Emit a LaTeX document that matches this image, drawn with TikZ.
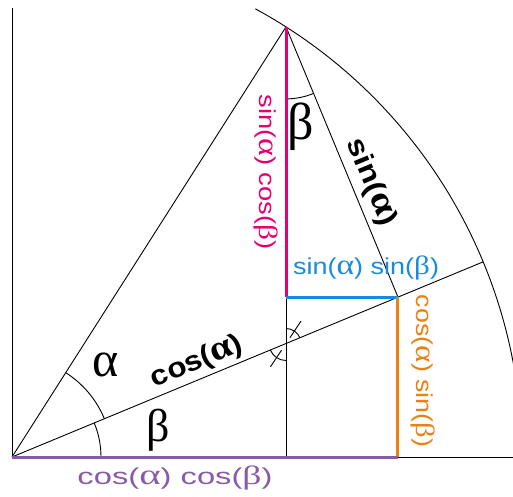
\documentclass[tikz,border=0pt]{standalone}
\usepackage{fontspec}
\setmainfont{Liberation Sans}
\newfontfamily\gk{Liberation Serif}
\usetikzlibrary{calc}
\definecolor{cmag}{RGB}{228,0,112}
\definecolor{cblue}{RGB}{24,140,220}
\definecolor{corange}{RGB}{236,128,16}
\definecolor{cpurple}{RGB}{136,90,168}
\newcommand\fitw[2]{\resizebox{#1}{\height}{#2}}
\newcommand\ga{\scalebox{1.25}{\gk α}}
\newcommand\gb{\scalebox{1.15}{\gk β}}
\begin{document}
\begin{tikzpicture}[x=1pt,y=1pt,
  blk/.style={black,line width=0.9pt},
  colline/.style={line width=3pt},
  lab/.style={inner sep=0pt,font=\fontsize{23}{23}\selectfont},
  blab/.style={inner sep=0pt,font=\fontsize{28}{28}\selectfont\bfseries},
  greek/.style={inner sep=0pt}]
\useasboundingbox (0,0) rectangle (513,496);
\clip (0,0) rectangle (513,496);
\coordinate (O) at (12,39);
\coordinate (T) at ($(O)+(57.5:510)$);
\coordinate (P) at ($(O)+(22.5:417.8)$);
\coordinate (E) at ($(O)+(22.5:510)$);
\coordinate (Tb) at (T |- O);
\coordinate (Q) at (T |- P);
\coordinate (Pb) at (P |- O);
\coordinate (Ytop) at (12,488);
\coordinate (Xr) at (513,39);
\coordinate (X) at (intersection of O--E and T--Tb);
% black lines
\draw[blk] (O) -- (Ytop);
\draw[blk] (O) -- (Xr);
\draw[blk] (O) -- (T);
\draw[blk] (O) -- (E);
\draw[blk] (T) -- (P);
\draw[blk] (Tb) -- (Q);
\draw[blk] ($(O)+(61.5:510)$) arc[start angle=61.5,end angle=8,radius=510];
% angle arcs
\draw[blk] ($(O)+(57.5:100)$) arc[start angle=57.5,end angle=22.5,radius=100];
\draw[blk] ($(O)+(22.5:89)$) arc[start angle=22.5,end angle=0,radius=89];
\draw[blk] ($(T)+(-90:72)$) arc[start angle=-90,end angle=-67.5,radius=72];
\draw[blk] ($(X)+(90:15)$) arc[start angle=90,end angle=22.5,radius=15];
\draw[blk] ($(X)+(56.25:7)$) -- ($(X)+(56.25:27)$);
\draw[blk] ($(X)+(202.5:17)$) arc[start angle=202.5,end angle=270,radius=17];
\draw[blk] ($(X)+(236.25:8)$) -- ($(X)+(236.25:28)$);
% coloured segments
\draw[colline,cmag] (T) -- (Q);
\draw[colline,cblue] (Q) -- (P);
\draw[colline,corange] (P) -- (Pb);
\draw[colline,cpurple] (O) -- (Pb);
% labels
\node[lab,cmag,rotate=-90] (lsc) at (266,324) {\fitw{155pt}{sin(\ga) cos(\gb)}};
\node[blab,rotate=-67.5] (lsa) at (371,314) {\fitw{92pt}{sin(\ga)}};
\node[lab,cblue] (lss) at (366,228) {\fitw{146pt}{sin(\ga) sin(\gb)}};
\node[lab,corange,rotate=-90] (lcs) at (423,125) {\fitw{152pt}{cos(\ga) sin(\gb)}};
\node[blab,rotate=22.5] (lca) at (197,134) {\fitw{97pt}{cos(\ga)}};
\node[lab,cpurple] (lcc) at (175,18) {\fitw{195pt}{cos(\ga) cos(\gb)}};
\node[greek,font=\gk\fontsize{50}{50}\selectfont] (la) at (106,131) {α};
\node[greek,font=\gk\fontsize{46}{46}\selectfont] (lb1) at (158,66) {β};
\node[greek,font=\gk\fontsize{52}{52}\selectfont] (lb2) at (301,369) {β};
\end{tikzpicture}
\end{document}
